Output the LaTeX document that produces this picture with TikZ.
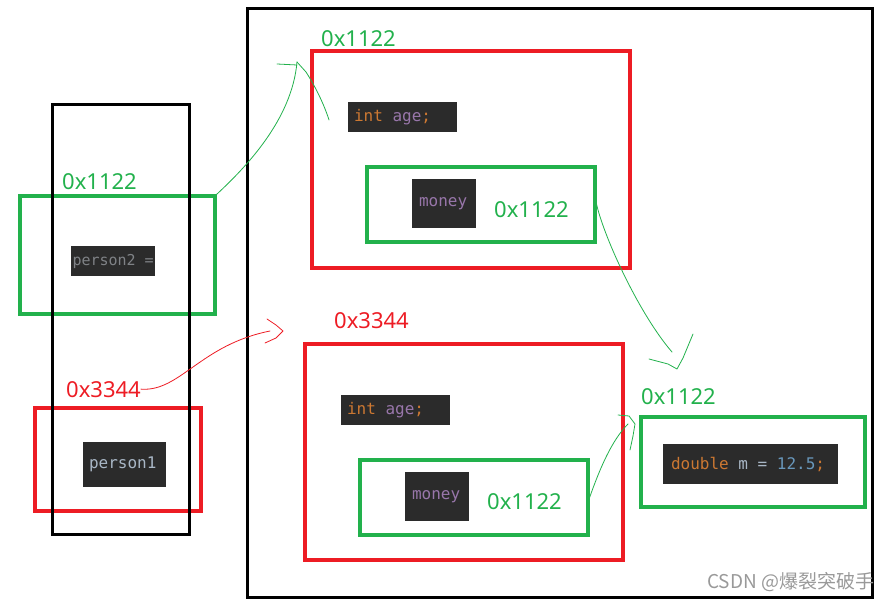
\documentclass[tikz,border=0pt]{standalone}
\usepackage{fontspec}
\setmainfont{Noto Sans}
\newfontfamily\codefont{DejaVu Sans Mono}
\newfontfamily\cjk{Noto Sans CJK SC}

\definecolor{paintgreen}{HTML}{22B14C}
\definecolor{paintred}{HTML}{ED1C24}
\definecolor{codebg}{HTML}{2B2B2B}
\definecolor{kwcol}{HTML}{CC7832}
\definecolor{fieldcol}{HTML}{9876AA}
\definecolor{varcol}{HTML}{A9B7C6}
\definecolor{numcol}{HTML}{6897BB}
\definecolor{dimcol}{HTML}{7F8286}

\newcommand{\kw}[1]{\textcolor{kwcol}{#1}}
\newcommand{\fld}[1]{\textcolor{fieldcol}{#1}}
\newcommand{\csp}{\hspace*{0.602em}}

\tikzset{
    blackframe/.style={draw=black, line width=3pt},
    gbox/.style={draw=paintgreen, line width=3.2pt},
    rbox/.style={draw=paintred, line width=3.2pt},
    code/.style={fill=codebg, inner xsep=6pt, inner ysep=0pt, align=left,
        font=\codefont\fontsize{16}{19}\selectfont},
    addr/.style={anchor=base west, inner sep=0pt, font=\fontsize{22}{26}\selectfont},
    hand/.style={line width=0.8pt, line join=round, line cap=round}
}

\begin{document}
\begin{tikzpicture}[x=1pt,y=-1pt]
\useasboundingbox (0,0) rectangle (895,602);

% Heap frame
\node[blackframe, minimum width=625pt, minimum height=588pt] (heap) at (559.5,303) {};

% Stack variables
\node[gbox, minimum width=195pt, minimum height=118pt] (p2box) at (117.5,255) {};
\node[code, inner xsep=1.5pt, text width=81pt, minimum height=30pt,
    font=\codefont\fontsize{15}{18}\selectfont] (p2code) at (113,261) {\textcolor{dimcol}{person2\csp=}};
\node[rbox, minimum width=166pt, minimum height=103pt] (p1box) at (118,459.5) {};
\node[code, text width=71pt, minimum height=45pt] (p1code) at (124.5,464.5) {\textcolor{varcol}{person1}};
\node[addr, text=paintgreen] (lblp2) at (62,189) {0x1122};
\node[addr, text=paintred] (lblp1) at (66,397) {0x3344};

% Stack frame
\node[blackframe, minimum width=137pt, minimum height=429pt] (stack) at (120.5,319.5) {};

% Object at 0x1122
\node[rbox, minimum width=318pt, minimum height=217pt] (objA) at (471,159.5) {};
\node[addr, text=paintgreen] (lblA) at (321,47) {0x1122};
\node[code, text width=97pt, minimum height=30pt] (ageA) at (402.5,117) {\kw{int}\csp\fld{age}\kw{;}};
\node[gbox, minimum width=228pt, minimum height=75pt] (mboxA) at (481,204.5) {};
\node[code, inner xsep=7pt, text width=50pt, minimum height=49pt] (moneyA) at (444,203.5) {\fld{money}};
\node[addr, text=paintgreen] (lblmA) at (494,217) {0x1122};

% Object at 0x3344
\node[rbox, minimum width=318pt, minimum height=216pt] (objB) at (464,452) {};
\node[addr, text=paintred] (lblB) at (334,328) {0x3344};
\node[code, text width=97pt, minimum height=30pt] (ageB) at (395.5,410) {\kw{int}\csp\fld{age}\kw{;}};
\node[gbox, minimum width=228pt, minimum height=75pt] (mboxB) at (474,497.5) {};
\node[code, inner xsep=7pt, text width=50pt, minimum height=49pt] (moneyB) at (437,496.5) {\fld{money}};
\node[addr, text=paintgreen] (lblmB) at (487,509) {0x1122};

% Shared money object
\node[gbox, minimum width=224pt, minimum height=90pt] (dbox) at (753,462) {};
\node[addr, text=paintgreen] (lblD) at (641,404) {0x1122};
\node[code, inner xsep=8pt, text width=159pt, minimum height=40pt] (dcode) at (750.5,464)
    {\kw{double}\csp\textcolor{varcol}{m\csp=}\csp\textcolor{numcol}{12.5}\kw{;}};

% Hand-drawn arrows
\coordinate (tipA) at (297,62);
\draw[hand, paintgreen] (p2box.north east) .. controls (245,168) and (292,120) .. (tipA);
\draw[hand, paintgreen] (277,64) -- (297,65);
\draw[hand, paintgreen] (tipA) -- (306,72) .. controls (315,86) and (324,104) .. (329,120);

\coordinate (tipD) at (672,352);
\draw[hand, paintgreen] (mboxA.east) .. controls (605,240) and (640,315) .. (tipD);
\draw[hand, paintgreen] (649,359) -- (668,364) -- (677,369) -- (683,358) -- (693,334);

\coordinate (tipB) at (270,331);
\draw[hand, paintred] (lblp1.east) .. controls (180,392) and (200,345) .. (tipB);
\draw[hand, paintred] (267,319) -- (276,325) -- (283,331) -- (276,338) -- (265,343);

\coordinate (tipE) at (628,424);
\draw[hand, paintgreen] (mboxB.east) .. controls (600,468) and (612,440) .. (tipE);
\draw[hand, paintgreen] (618,415) -- (629,416) -- (635,424) -- (633,436) -- (630,450);

% Watermark
\node[anchor=west, inner sep=0pt, text=black!40, font=\cjk\fontsize{19}{22}\selectfont] (mark) at (707,582) {CSDN @爆裂突破手};

\end{tikzpicture}
\end{document}
